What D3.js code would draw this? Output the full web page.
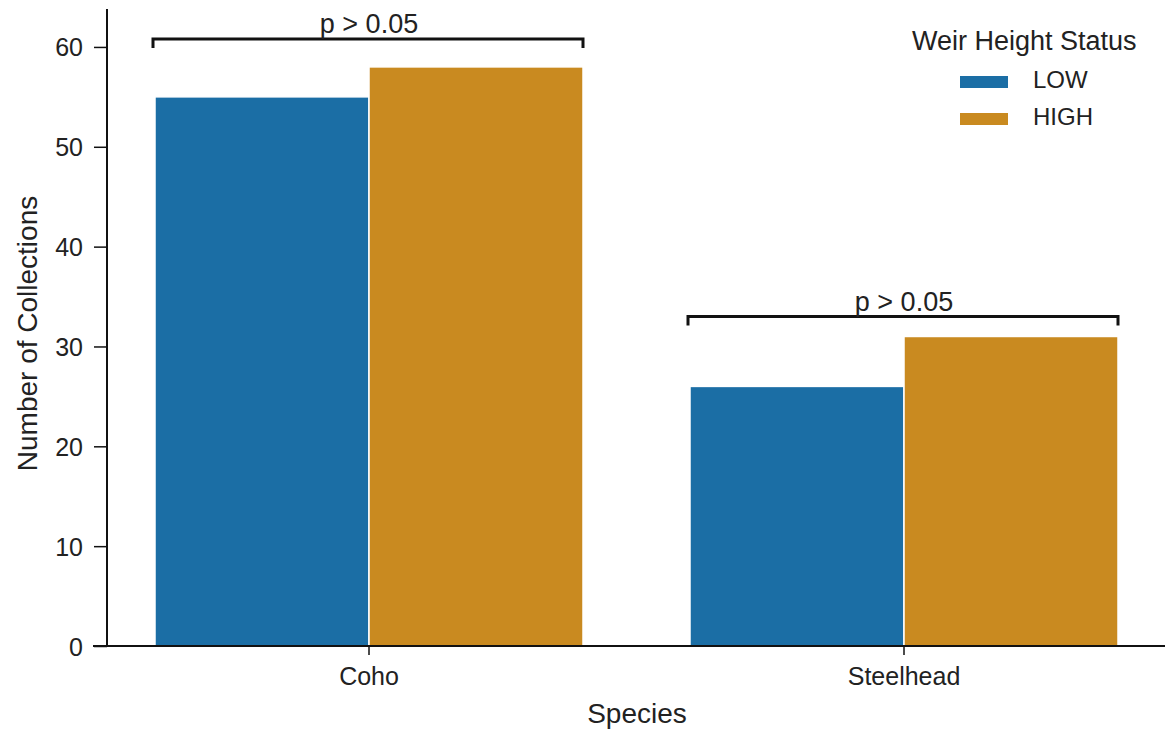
<!DOCTYPE html>
<html>
<head>
<meta charset="utf-8">
<script src="https://cdn.jsdelivr.net/npm/d3@7"></script>
<style>
  body { margin: 0; background: #fff; }
  text { font-family: "Liberation Sans", Arial, sans-serif; fill: #222; }
</style>
</head>
<body>
<svg id="chart" width="1165" height="731"></svg>
<script>
const categories = ["Coho", "Steelhead"];
const hues = ["LOW", "HIGH"];
const lowValues = [55, 26];
const highValues = [58, 31];
const yTicks = [0, 10, 20, 30, 40, 50, 60];
const bracketHeights = [60.8, 33];
const bracketLabels = ["p > 0.05", "p > 0.05"];
const colors = ["#1b6ea5", "#c98a20"];

const W = 1165, H = 731;
const svg = d3.select("#chart");

const x = d3.scaleBand().domain(categories).range([101.5, 1171.5]).padding(0);
const inner = d3.scaleBand().domain(hues)
  .range([x.bandwidth() * 0.1, x.bandwidth() * 0.9]).padding(0);
const y = d3.scaleLinear().domain([0, 63.8]).range([646, 9]);

const data = [];
categories.forEach((c, i) => {
  data.push({cat: c, hue: "LOW", v: lowValues[i]});
  data.push({cat: c, hue: "HIGH", v: highValues[i]});
});
const color = d3.scaleOrdinal().domain(hues).range(colors);

// bars
svg.append("g").selectAll("rect").data(data).join("rect")
  .attr("x", d => x(d.cat) + inner(d.hue))
  .attr("width", inner.bandwidth())
  .attr("y", d => y(d.v))
  .attr("height", d => y(0) - y(d.v))
  .attr("fill", d => color(d.hue))
  .attr("stroke", "#fff")
  .attr("stroke-width", 1.5);

// y axis
const yAxis = d3.axisLeft(y).tickValues(yTicks).tickSize(13).tickPadding(11);
const gy = svg.append("g").attr("transform", "translate(107,0)").call(yAxis);
gy.select(".domain").remove();
gy.selectAll(".tick line").attr("stroke", "#111").attr("stroke-width", 1.5);
gy.selectAll(".tick text").attr("font-size", 25).attr("fill", "#222")
  .attr("font-family", "Liberation Sans, Arial, sans-serif").attr("dy", "0.36em");
svg.append("line").attr("x1", 107).attr("x2", 107).attr("y1", y.range()[1]).attr("y2", y(0) + 1)
  .attr("stroke", "#111").attr("stroke-width", 2);

// x axis
const xAxis = d3.axisBottom(x).tickSize(9).tickPadding(12);
const gx = svg.append("g").attr("transform", `translate(0,${y(0)})`).call(xAxis);
gx.select(".domain").remove();
gx.selectAll(".tick line").attr("stroke", "#111").attr("stroke-width", 1.5);
gx.selectAll(".tick text").attr("font-size", 25).attr("fill", "#222")
  .attr("font-family", "Liberation Sans, Arial, sans-serif");
svg.append("line").attr("x1", 93).attr("x2", W).attr("y1", y(0)).attr("y2", y(0))
  .attr("stroke", "#111").attr("stroke-width", 2);

// axis labels
svg.append("text").attr("x", 637).attr("y", 723).attr("text-anchor", "middle")
  .attr("font-size", 28).text("Species");
svg.append("text").attr("transform", `translate(37,${(y(0) + y.range()[1]) / 2 + 6}) rotate(-90)`)
  .attr("text-anchor", "middle").attr("font-size", 28).text("Number of Collections");

// significance brackets
categories.forEach((c, i) => {
  const x0 = x(c) + inner("LOW") - 2;
  const x1 = x(c) + inner("HIGH") + inner.bandwidth();
  const yb = y(bracketHeights[i]);
  const drop = y(bracketHeights[i] - 0.9) - yb;
  svg.append("path")
    .attr("d", `M${x0},${yb + drop}V${yb}H${x1}V${yb + drop}`)
    .attr("fill", "none").attr("stroke", "#111").attr("stroke-width", 3);
  svg.append("text").attr("x", x(c) + x.bandwidth() / 2).attr("y", yb - 6)
    .attr("text-anchor", "middle").attr("font-size", 27).text(bracketLabels[i]);
});

// legend
const lg = svg.append("g");
lg.append("text").attr("x", 912).attr("y", 50).attr("font-size", 27).text("Weir Height Status");
hues.forEach((h, i) => {
  lg.append("rect").attr("x", 960).attr("y", 76 + i * 37).attr("width", 48).attr("height", 12)
    .attr("fill", color(h));
  lg.append("text").attr("x", 1033).attr("y", 88 + i * 36.5).attr("font-size", 24).text(h);
});
</script>
</body>
</html>
